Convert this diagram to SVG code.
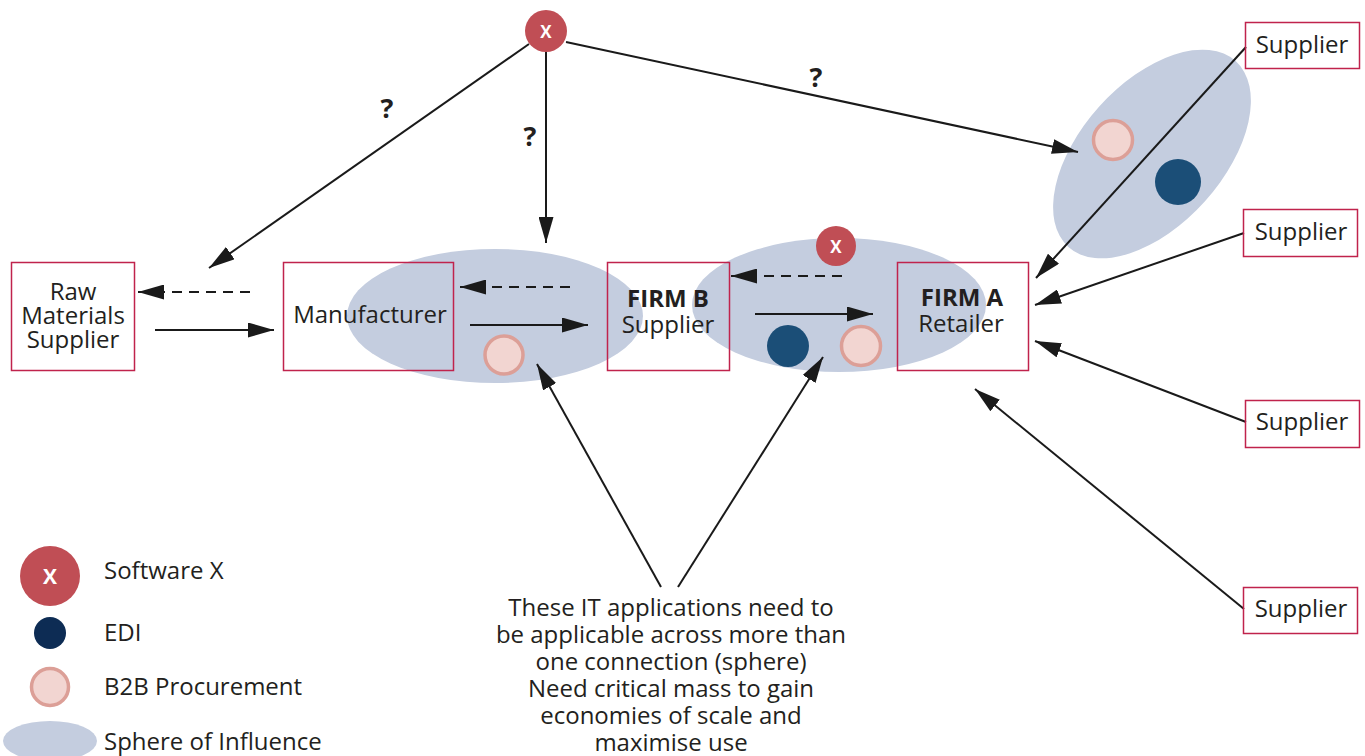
<svg xmlns="http://www.w3.org/2000/svg" width="1365" height="756" viewBox="0 0 1365 756">
  <style>
    .txt { font-family: "Open Sans", "Noto Sans", "Liberation Sans", sans-serif; font-size: 24px; fill: #231f20; }
    .bold { font-weight: bold; }
    .mid { text-anchor: middle; }
    .txt.q { font-size: 27px; }
    .box { fill: none; stroke: #c0234c; stroke-width: 1.5; }
    .sphere { fill: #c4cddf; }
    .edi { fill: #1b4e77; }
    .b2b { fill: #f2d5d1; stroke: #dc9f97; stroke-width: 3.5; }
    .swx { fill: #c04e55; }
    .swxt { font-family: "Open Sans", "Noto Sans", "Liberation Sans", sans-serif; font-weight: bold; fill: #ffffff; text-anchor: middle; }
    .link { stroke: #1a1a1a; stroke-width: 2; fill: none; marker-end: url(#head); }
    .dash { stroke-dasharray: 10 7; }
  </style>
  <defs>
    <marker id="head" markerUnits="userSpaceOnUse" markerWidth="27" markerHeight="15" refX="26" refY="7.5" orient="auto">
      <path d="M0,0 L26,7.5 L0,15 z" fill="#1a1a1a"/>
    </marker>
  </defs>

  <rect width="1365" height="756" fill="#ffffff"/>

  <!-- spheres of influence -->
  <g id="spheres">
    <ellipse class="sphere" cx="495" cy="316" rx="148" ry="67"/>
    <ellipse class="sphere" cx="839" cy="305" rx="147" ry="67"/>
    <ellipse class="sphere" cx="1152" cy="154" rx="125" ry="71" transform="rotate(-48 1152 154)"/>
  </g>

  <!-- connectors -->
  <g id="connectors">
    <line class="link" x1="529" y1="44" x2="209" y2="268"/>
    <line class="link" x1="546" y1="52" x2="546" y2="243"/>
    <line class="link" x1="566" y1="42" x2="1078" y2="152"/>
    <line class="link" x1="1246" y1="47" x2="1036" y2="278"/>
    <line class="link" x1="1244" y1="233" x2="1035" y2="305"/>
    <line class="link" x1="1246" y1="422" x2="1035" y2="341"/>
    <line class="link" x1="1244" y1="609" x2="975" y2="389"/>
    <line class="link" x1="155" y1="330" x2="274" y2="330"/>
    <line class="link dash" x1="250" y1="292" x2="138" y2="292"/>
    <line class="link dash" x1="570" y1="287" x2="460" y2="287"/>
    <line class="link" x1="470" y1="325" x2="588" y2="325"/>
    <line class="link dash" x1="842" y1="276" x2="731" y2="276"/>
    <line class="link" x1="755" y1="314" x2="873" y2="314"/>
    <line class="link" x1="661" y1="587" x2="537" y2="364"/>
    <line class="link" x1="678" y1="587" x2="823" y2="357"/>
    <text class="txt bold mid q" x="387" y="118">?</text>
    <text class="txt bold mid q" x="530" y="146">?</text>
    <text class="txt bold mid q" x="816" y="87">?</text>
  </g>

  <!-- software / tool markers inside spheres -->
  <g id="sw-top">
    <circle class="swx" cx="546" cy="31" r="21"/>
    <text class="swxt" x="546" y="37.5" font-size="17">X</text>
  </g>
  <g id="sw-mid">
    <circle class="swx" cx="836" cy="246" r="20"/>
    <text class="swxt" x="836" y="252.5" font-size="17">X</text>
  </g>
  <g id="tools">
    <circle class="b2b" cx="504" cy="355" r="19"/>
    <circle class="edi" cx="788" cy="346" r="21"/>
    <circle class="b2b" cx="861" cy="346" r="19.5"/>
    <circle class="b2b" cx="1113" cy="140" r="19.5"/>
    <circle class="edi" cx="1178" cy="182" r="23"/>
  </g>

  <!-- firms -->
  <g id="raw-materials">
    <rect class="box" x="11.5" y="262.5" width="123" height="108"/>
    <text class="txt mid" x="73" y="300">Raw</text>
    <text class="txt mid" x="73" y="324">Materials</text>
    <text class="txt mid" x="73" y="348">Supplier</text>
  </g>
  <g id="manufacturer">
    <rect class="box" x="283.5" y="262.5" width="170" height="108"/>
    <text class="txt mid" x="370" y="323">Manufacturer</text>
  </g>
  <g id="firm-b">
    <rect class="box" x="607.5" y="262.5" width="122" height="108"/>
    <text class="txt bold mid" x="668" y="307">FIRM B</text>
    <text class="txt mid" x="668" y="333">Supplier</text>
  </g>
  <g id="firm-a">
    <rect class="box" x="897.5" y="262.5" width="131" height="108"/>
    <text class="txt bold mid" x="962" y="306">FIRM A</text>
    <text class="txt mid" x="961" y="332">Retailer</text>
  </g>
  <g id="supplier-1">
    <rect class="box" x="1245.5" y="22.5" width="114" height="46"/>
    <text class="txt mid" x="1302" y="53">Supplier</text>
  </g>
  <g id="supplier-2">
    <rect class="box" x="1243.5" y="209.5" width="114" height="47"/>
    <text class="txt mid" x="1301" y="240">Supplier</text>
  </g>
  <g id="supplier-3">
    <rect class="box" x="1245.5" y="400.5" width="114" height="47"/>
    <text class="txt mid" x="1302" y="430">Supplier</text>
  </g>
  <g id="supplier-4">
    <rect class="box" x="1243.5" y="587.5" width="114" height="46"/>
    <text class="txt mid" x="1301" y="617">Supplier</text>
  </g>

  <!-- note -->
  <g id="note">
    <text class="txt mid" x="671" y="616">These IT applications need to</text>
    <text class="txt mid" x="671" y="643">be applicable across more than</text>
    <text class="txt mid" x="671" y="670">one connection (sphere)</text>
    <text class="txt mid" x="671" y="697">Need critical mass to gain</text>
    <text class="txt mid" x="671" y="724">economies of scale and</text>
    <text class="txt mid" x="671" y="751">maximise use</text>
  </g>

  <!-- legend -->
  <g id="legend">
    <circle class="swx" cx="50" cy="576" r="30"/>
    <text class="swxt" x="50" y="584" font-size="21">X</text>
    <text class="txt" x="104" y="579">Software X</text>
    <circle cx="50" cy="633" r="16" fill="#0d2c54"/>
    <text class="txt" x="104" y="641">EDI</text>
    <circle class="b2b" cx="50" cy="687" r="18.5"/>
    <text class="txt" x="104" y="695">B2B Procurement</text>
    <ellipse class="sphere" cx="50" cy="741" rx="47" ry="20"/>
    <text class="txt" x="104" y="750">Sphere of Influence</text>
  </g>
</svg>
